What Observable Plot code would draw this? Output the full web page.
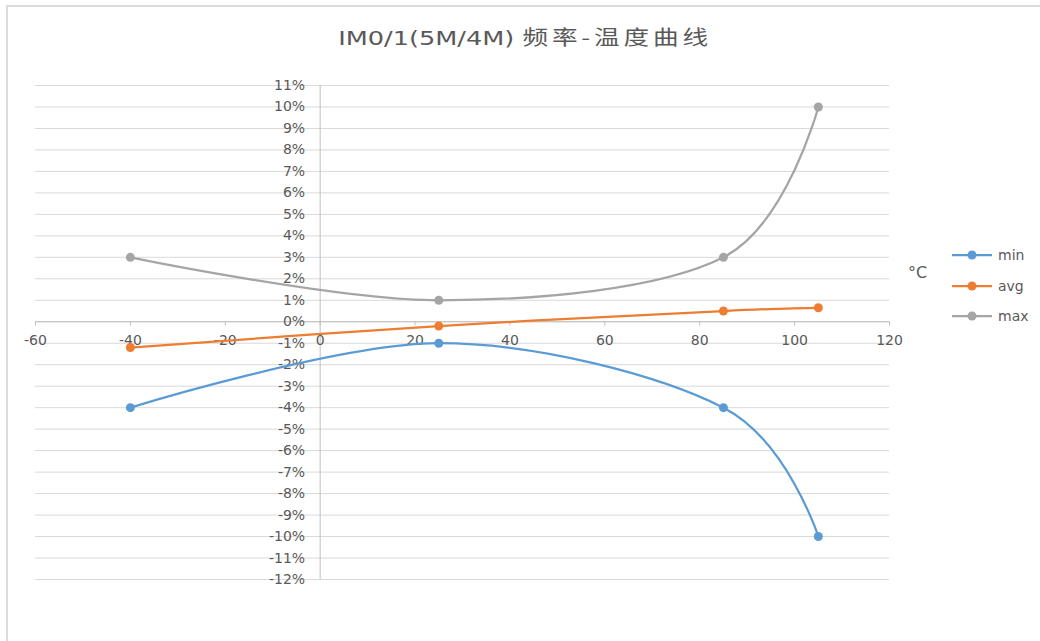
<!DOCTYPE html>
<html>
<head>
<meta charset="utf-8">
<script src="https://cdn.jsdelivr.net/npm/d3@7"></script>
<script src="https://cdn.jsdelivr.net/npm/@observablehq/plot@0.6"></script>
<style>
  html, body { margin: 0; padding: 0; background: #fff; }
  #wrap { position: relative; width: 1040px; height: 641px; overflow: hidden; font-family: "DejaVu Sans", "Noto Sans CJK SC", sans-serif; }
  #frame { position: absolute; left: 6px; top: 5px; width: 1100px; height: 700px; border-left: 2px solid #dcdcdc; border-top: 2px solid #dcdcdc; box-sizing: border-box; pointer-events: none; }
  #title { height: 60px; position: relative; color: #595959; }
  #title > span { position: absolute; left: 525px; top: 24px; transform: translateX(-50%) scaleX(1.28); white-space: nowrap; font-size: 20px; line-height: 26px; font-family: "DejaVu Sans", "Noto Sans CJK SC", sans-serif; }
  #title .cjk { letter-spacing: 3px; font-family: "Noto Sans CJK SC", sans-serif; }
  #legend { position: absolute; left: 950px; top: 240px; font-size: 14px; color: #595959; }
  .li { display: flex; align-items: center; height: 30.5px; }
  .li svg { margin-right: 4px; }
  #unit { position: absolute; left: 908px; top: 263px; font-size: 16px; color: #595959; }
</style>
</head>
<body>
<div id="wrap">
  <div id="title"><span>IM0/1(5M/4M) <span class="cjk">频率-温度曲线</span></span></div>
  <div id="chart"></div>
  <div id="unit">°C</div>
  <div id="legend"></div>
  <div id="frame"></div>
</div>
<script>
const temps = [-40, 25, 85, 105];
const minVals = [-4, -1, -4, -10];
const avgVals = [-1.2, -0.2, 0.5, 0.65];
const maxVals = [3, 1, 3, 10];
const seriesNames = ["min", "avg", "max"];
const seriesColors = ["#5b9bd5", "#ed7d31", "#a5a5a5"];
const xTicks = [-60, -40, -20, 0, 20, 40, 60, 80, 100, 120];
const yTicks = [-12, -11, -10, -9, -8, -7, -6, -5, -4, -3, -2, -1, 0, 1, 2, 3, 4, 5, 6, 7, 8, 9, 10, 11];

const seriesVals = [minVals, avgVals, maxVals];
const series = seriesNames.map((name, i) => temps.map((t, j) => ({name, t, v: seriesVals[i][j]})));

const marks = [
  Plot.ruleY(yTicks, {x1: -60, x2: 120, stroke: "#d9d9d9", strokeWidth: 1}),
  Plot.ruleX([0], {y1: -12, y2: 11, stroke: "#bfbfbf", strokeWidth: 1}),
  Plot.ruleY([0], {x1: -60, x2: 120, stroke: "#bfbfbf", strokeWidth: 1}),
  Plot.ruleX(xTicks, {y1: 0, y2: -0.2, stroke: "#bfbfbf", strokeWidth: 1}),
  Plot.text(yTicks, {x: 0, y: d => d, text: d => d + "%", textAnchor: "end", dx: -15, fill: "#595959", fontSize: 14}),
  Plot.text(xTicks, {x: d => d, y: 0, text: d => String(d), dy: 19, fill: "#595959", fontSize: 14})
];
series.forEach((s, i) => {
  marks.push(Plot.line(s, {x: "t", y: "v", stroke: seriesColors[i], strokeWidth: 2.25, curve: "cardinal"}));
  marks.push(Plot.dot(s, {x: "t", y: "v", fill: seriesColors[i], r: 4.5}));
});

const chart = Plot.plot({
  width: 1040,
  height: 581,
  marginLeft: 35,
  marginRight: 151,
  marginTop: 25,
  marginBottom: 62,
  x: {domain: [-60, 120], axis: null},
  y: {domain: [-12, 11], axis: null},
  style: {fontFamily: "DejaVu Sans, sans-serif", background: "transparent"},
  marks
});
document.getElementById("chart").appendChild(chart);

const legend = document.getElementById("legend");
seriesNames.forEach((name, i) => {
  const row = document.createElement("div");
  row.className = "li";
  row.innerHTML = `<svg width="44" height="12"><line x1="2" x2="42" y1="6" y2="6" stroke="${seriesColors[i]}" stroke-width="2.25"/><circle cx="22" cy="6" r="4.5" fill="${seriesColors[i]}"/></svg><span>${name}</span>`;
  legend.appendChild(row);
});
</script>
</body>
</html>
